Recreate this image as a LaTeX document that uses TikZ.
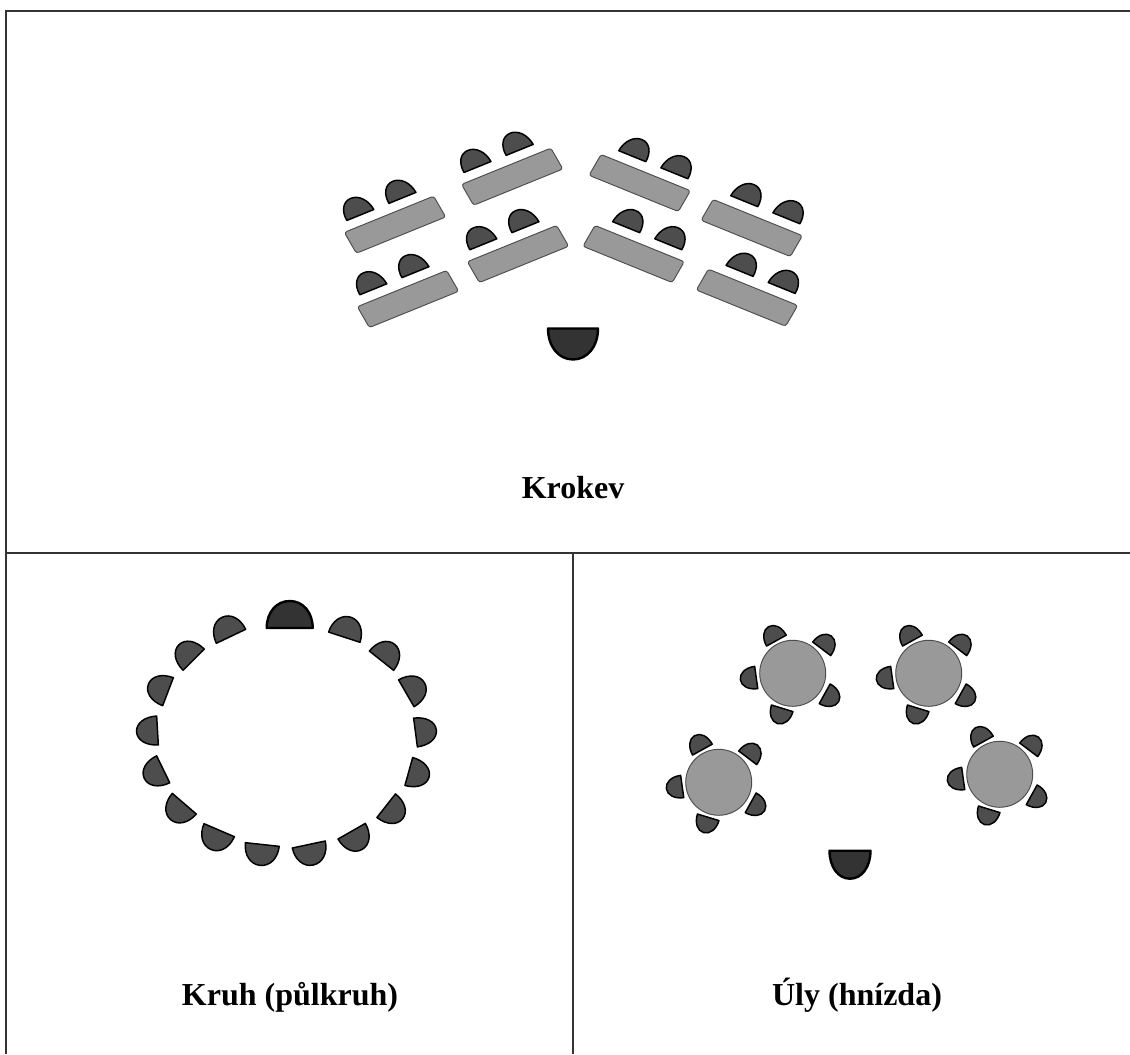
\documentclass[tikz,border=0pt]{standalone}
\usepackage{fontspec}
\setmainfont{Liberation Serif}
\usepackage{tikz}

\definecolor{seatgray}{HTML}{4D4D4D}
\definecolor{teachergray}{HTML}{333333}
\definecolor{deskgray}{HTML}{999999}

\newcommand{\seatpath}[2]{
  (-#1/2,0) .. controls (-#1/2,0.58*#2) and (-0.29*#1,#2) .. (0,#2)
  .. controls (0.29*#1,#2) and (#1/2,0.58*#2) .. (#1/2,0) -- cycle
}

\tikzset{
  % half round seats, flat side on the x axis
  pics/seat/.style n args={2}{code={
    \draw[draw=black, fill=seatgray, line width=1.1pt, line join=round] \seatpath{#1}{#2};
  }},
  pics/teacher/.style n args={2}{code={
    \draw[draw=black, fill=teachergray, line width=1.8pt, line join=round] \seatpath{#1}{#2};
  }},
  deskbox/.style={rectangle, draw=black!70, fill=deskgray, line width=0.7pt,
    rounded corners=2pt, minimum width=74.4pt, minimum height=20.7pt, inner sep=0, outer sep=0},
  tablebox/.style={circle, draw=black!70, fill=deskgray, line width=0.7pt,
    minimum size=49.5pt, inner sep=0, outer sep=0},
  caption/.style={font=\fontsize{24}{28}\selectfont\bfseries, inner sep=0, anchor=base}
}

\begin{document}
\begin{tikzpicture}[x=0.75pt, y=0.75pt]
  \useasboundingbox (0,0) rectangle (1130,1054);

  % frame
  \draw[black!80, line width=1pt] (1130,1043) -- (6,1043) -- (6,0);
  \draw[black!80, line width=1pt] (6,501) -- (1130,501);
  \draw[black!80, line width=1pt] (573,501) -- (573,0);

  % rows of desks
  \foreach \n/\x/\y/\r/\s in {1/395/829.3/25.8/-2.8, 2/512.2/877.3/25.8/-2.8, 3/518/800/25.8/-2.8, 4/408/755/25.8/-2.8,
      5/639.7/871/-25.8/2.8, 6/633.6/800/-25.8/2.8, 7/751.7/826/-25.8/2.8, 8/747/756.3/-25.8/2.8} {
    \begin{scope}[shift={(\x,\y)}, yscale=0.84, rotate=\r, transform shape]
      \node[deskbox] (desk\n) at (0,0) {};
      \pic[transform shape] at (\s-23.4,25.5) {seat={30}{22}};
      \pic[transform shape] at (\s+23.4,25.5) {seat={30}{22}};
    \end{scope}
  }
  \pic[rotate=180] at (573,725.5) {teacher={50}{31}};

  % circle
  \pic at (289.7,426) {teacher={46}{27}};
  \foreach \x/\y/\r/\w in {344.3/416.8/-18/33, 381.5/393.3/-38.5/31, 406.3/360.7/-60/31, 415.5/321.5/-82.6/29,
      408.8/282.5/-105.5/29, 386.2/248.3/-128.2/30, 351.7/222.8/-150.2/31.5, 308.8/209.5/-168/33.7,
      262.3/209.5/173.8/34, 219.2/223.8/156.8/33, 184.3/250.3/139.3/31.7, 163.2/284.7/116/30,
      157.5/323.5/93.3/29, 168/362.3/69.1/30, 193.7/394.3/45/30, 231/417.7/25.5/32.5} {
    \pic[rotate=\r] at (\x,\y) {seat={\w}{21}};
  }

  % tables
  \foreach \n/\x/\y in {1/792.7/380.7, 2/928.7/380.7, 3/718.7/271.7, 4/999.7/279.7} {
    \node[tablebox] (table\n) at (\x,\y) {};
    \foreach \dx/\dy/\r in {-16.3/32.7/29, 29/24.5/-37, -36.5/-4.2/98, 32/-20.5/-119, -10.5/-35/163} {
      \pic[rotate=\r] at ([shift={(\dx,\dy)}]table\n.center) {seat={22.5}{16}};
    }
  }
  \pic[rotate=180] at (850,203.3) {teacher={41}{28}};

  % captions
  \node[caption] (krokev) at (573,556) {Krokev};
  \node[caption] (kruh) at (290,49) {Kruh (půlkruh)};
  \node[caption] (uly) at (857,49) {Úly (hnízda)};
\end{tikzpicture}
\end{document}
